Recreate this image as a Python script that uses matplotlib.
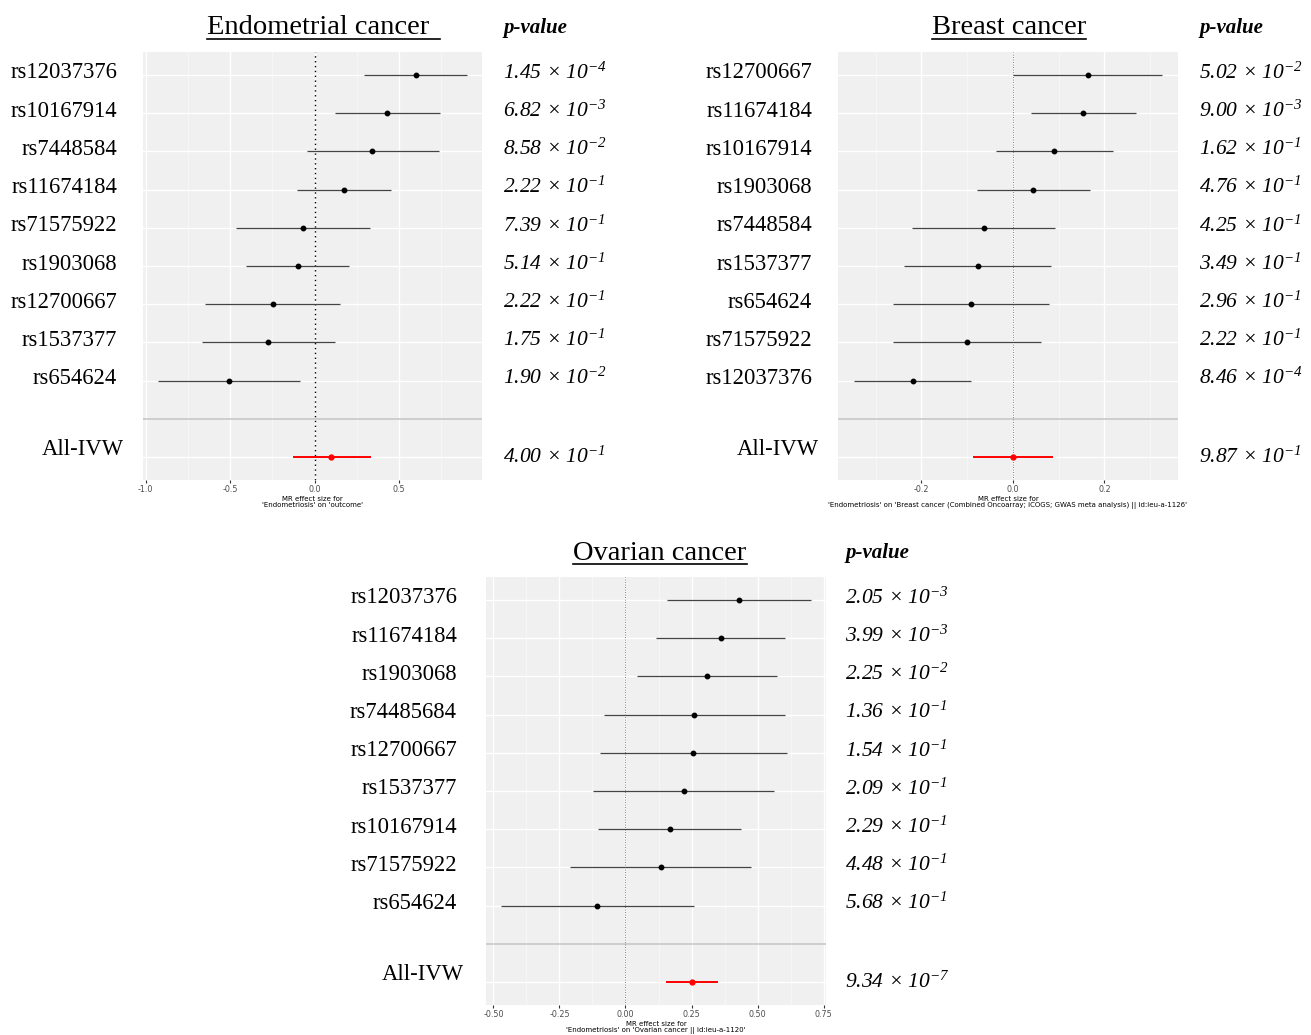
import matplotlib
matplotlib.use("Agg")
import matplotlib.pyplot as plt
from matplotlib.lines import Line2D

plt.rcParams['mathtext.fontset'] = 'custom'
plt.rcParams['mathtext.rm'] = 'Liberation Serif:italic'
plt.rcParams['mathtext.it'] = 'Liberation Serif:italic'

SERIF = 'Liberation Serif'
W, H = 1311, 1035

# ---- data (top row first) ----
endo_snps = ['rs12037376', 'rs10167914', 'rs7448584', 'rs11674184', 'rs71575922',
             'rs1903068', 'rs12700667', 'rs1537377', 'rs654624']
endo_b = [0.597, 0.431, 0.342, 0.174, -0.067, -0.101, -0.249, -0.273, -0.506]
endo_lo = [0.29, 0.12, -0.047, -0.105, -0.464, -0.405, -0.648, -0.666, -0.925]
endo_hi = [0.903, 0.741, 0.733, 0.453, 0.328, 0.206, 0.152, 0.121, -0.085]
endo_ivw = [0.099, -0.130, 0.334]
endo_p = [('1.45', -4), ('6.82', -3), ('8.58', -2), ('2.22', -1), ('7.39', -1),
          ('5.14', -1), ('2.22', -1), ('1.75', -1), ('1.90', -2)]
endo_ivw_p = ('4.00', -1)

br_snps = ['rs12700667', 'rs11674184', 'rs10167914', 'rs1903068', 'rs7448584',
           'rs1537377', 'rs654624', 'rs71575922', 'rs12037376']
br_b = [0.1635, 0.154, 0.091, 0.045, -0.064, -0.077, -0.091, -0.101, -0.219]
br_lo = [0.0, 0.039, -0.036, -0.079, -0.221, -0.237, -0.262, -0.262, -0.347]
br_hi = [0.327, 0.270, 0.218, 0.169, 0.093, 0.083, 0.079, 0.061, -0.091]
br_ivw = [0.0, -0.088, 0.088]
br_p = [('5.02', -2), ('9.00', -3), ('1.62', -1), ('4.76', -1), ('4.25', -1),
        ('3.49', -1), ('2.96', -1), ('2.22', -1), ('8.46', -4)]
br_ivw_p = ('9.87', -1)

ov_snps = ['rs12037376', 'rs11674184', 'rs1903068', 'rs74485684', 'rs12700667',
           'rs1537377', 'rs10167914', 'rs71575922', 'rs654624']
ov_b = [0.429, 0.360, 0.309, 0.260, 0.256, 0.221, 0.168, 0.134, -0.106]
ov_lo = [0.157, 0.116, 0.045, -0.081, -0.096, -0.122, -0.105, -0.210, -0.470]
ov_hi = [0.702, 0.602, 0.574, 0.602, 0.610, 0.564, 0.439, 0.476, 0.258]
ov_ivw = [0.251, 0.153, 0.352]
ov_p = [('2.05', -3), ('3.99', -3), ('2.25', -2), ('1.36', -1), ('1.54', -1),
        ('2.09', -1), ('2.29', -1), ('4.48', -1), ('5.68', -1)]
ov_ivw_p = ('9.34', -7)

fig = plt.figure(figsize=(W / 100, H / 100), dpi=100)
fig.patch.set_facecolor('white')


def px_axes(x0, y0, x1, y1):
    return fig.add_axes([x0 / W, 1 - y1 / H, (x1 - x0) / W, (y1 - y0) / H])


def pstr(p):
    return p[0] + ' \u00d7 10$^{\u2212' + str(-p[1]) + '}$'


def panel(box, snps, b, lo, hi, ivw, pv, ivw_p, xlim, ticks, ticklabels,
          xlabel, title, title_x, lab_right, p_left, pval_x, zero_style,
          title_sp=''):
    ax = px_axes(*box)
    ax.set_facecolor('#f0f0f0')
    n = len(snps)
    ys = list(range(n + 2, 2, -1))
    ax.set_xlim(*xlim)
    ax.set_ylim(0.4, n + 2.6)
    # grid
    for t in ticks:
        ax.axvline(t, color='white', lw=1.0, zorder=0)
    for i in range(len(ticks) - 1):
        ax.axvline((ticks[i] + ticks[i + 1]) / 2, color='#f8f8f8', lw=0.6, zorder=0)
    for t in [ticks[0] - (ticks[1] - ticks[0]) / 2, ticks[-1] + (ticks[1] - ticks[0]) / 2]:
        ax.axvline(t, color='#f8f8f8', lw=0.6, zorder=0)
    for y in ys + [1]:
        ax.axhline(y, color='white', lw=1.0, zorder=0)
    ax.axhline(2, color='#c8c8c8', lw=1.2, zorder=1)
    ax.axvline(0, zorder=1, **zero_style)
    ax.hlines(ys, lo, hi, color='#444444', lw=0.9, zorder=2)
    ax.plot(b, ys, 'o', color='black', ms=3.2, zorder=3)
    ax.hlines([1], [ivw[1]], [ivw[2]], color='red', lw=1.4, zorder=2)
    ax.plot([ivw[0]], [1], 'o', color='red', ms=3.5, zorder=3)
    ax.set_xticks(ticks)
    ax.set_xticklabels(ticklabels, fontsize=5.8, color='#4d4d4d', family='DejaVu Sans')
    ax.tick_params(axis='x', length=2, color='#333333', pad=1.5)
    ax.set_yticks([])
    for s in ax.spines.values():
        s.set_visible(False)
    ax.set_xlabel(xlabel, fontsize=5, family='DejaVu Sans', labelpad=1.5, linespacing=1.1)

    # labels and p-values in pixel offsets from data rows
    def row_px(y):
        return ax.transData.transform((0, y))[1]

    for s, y, p in zip(snps, ys, pv):
        yp = row_px(y) + 2
        fig.text(lab_right / W, yp / H, s, ha='right', va='center',
                 family=SERIF, fontsize=16.3)
        fig.text(p_left / W, yp / H, pstr(p), ha='left', va='center',
                 family=SERIF, fontsize=15.5, style='italic')
    yi = row_px(1)
    fig.text((lab_right + 7) / W, (yi + 8) / H, 'All-IVW', ha='right', va='center',
             family=SERIF, fontsize=16.3)
    fig.text(p_left / W, yi / H, pstr(ivw_p), ha='left', va='center',
             family=SERIF, fontsize=15.5, style='italic')
    ty = box[1] - 24
    t = fig.text(title_x / W, 1 - ty / H, title + title_sp, ha='center', va='center',
                 family=SERIF, fontsize=20.5)
    fig.text(pval_x / W, 1 - ty / H, 'p-value', ha='left', va='center',
             family=SERIF, fontsize=15, style='italic', weight='bold')
    return t


titles = []
titles.append(panel((143, 52, 482, 480), endo_snps, endo_b, endo_lo, endo_hi, endo_ivw,
                    endo_p, endo_ivw_p, (-1.015, 0.99), [-1.0, -0.5, 0.0, 0.5],
                    ['-1.0', '-0.5', '0.0', '0.5'],
                    "MR effect size for\n'Endometriosis' on 'outcome'",
                    'Endometrial cancer', 321, 117, 503, 503,
                    dict(color='black', lw=1.0, ls=(0, (1, 2.5))), title_sp='\u2009'))
titles.append(panel((838, 52, 1178, 480), br_snps, br_b, br_lo, br_hi, br_ivw,
                    br_p, br_ivw_p, (-0.382, 0.361), [-0.2, 0.0, 0.2],
                    ['-0.2', '0.0', '0.2'],
                    "MR effect size for\n'Endometriosis' on 'Breast cancer (Combined Oncoarray; iCOGS; GWAS meta analysis) || id:ieu-a-1126'",
                    'Breast cancer', 1009, 812, 1199, 1199,
                    dict(color='#555555', lw=0.6, ls=(0, (1, 2)))))
titles.append(panel((486, 577, 826, 1005), ov_snps, ov_b, ov_lo, ov_hi, ov_ivw,
                    ov_p, ov_ivw_p, (-0.528, 0.759), [-0.5, -0.25, 0.0, 0.25, 0.5, 0.75],
                    ['-0.50', '-0.25', '0.00', '0.25', '0.50', '0.75'],
                    "MR effect size for\n'Endometriosis' on 'Ovarian cancer || id:ieu-a-1120'",
                    'Ovarian cancer', 660, 457, 845, 845,
                    dict(color='#555555', lw=0.6, ls=(0, (1, 2)))))

# underline titles
fig.canvas.draw()
r = fig.canvas.get_renderer()
for t, extra in zip(titles, [5, 0, 0]):
    bb = t.get_window_extent(r)
    yline = bb.y0 + 2
    fig.add_artist(Line2D([bb.x0 / W, (bb.x1 + extra) / W], [yline / H, yline / H],
                          color='black', lw=1.2, transform=fig.transFigure))

fig.savefig('out.png', dpi=100)
